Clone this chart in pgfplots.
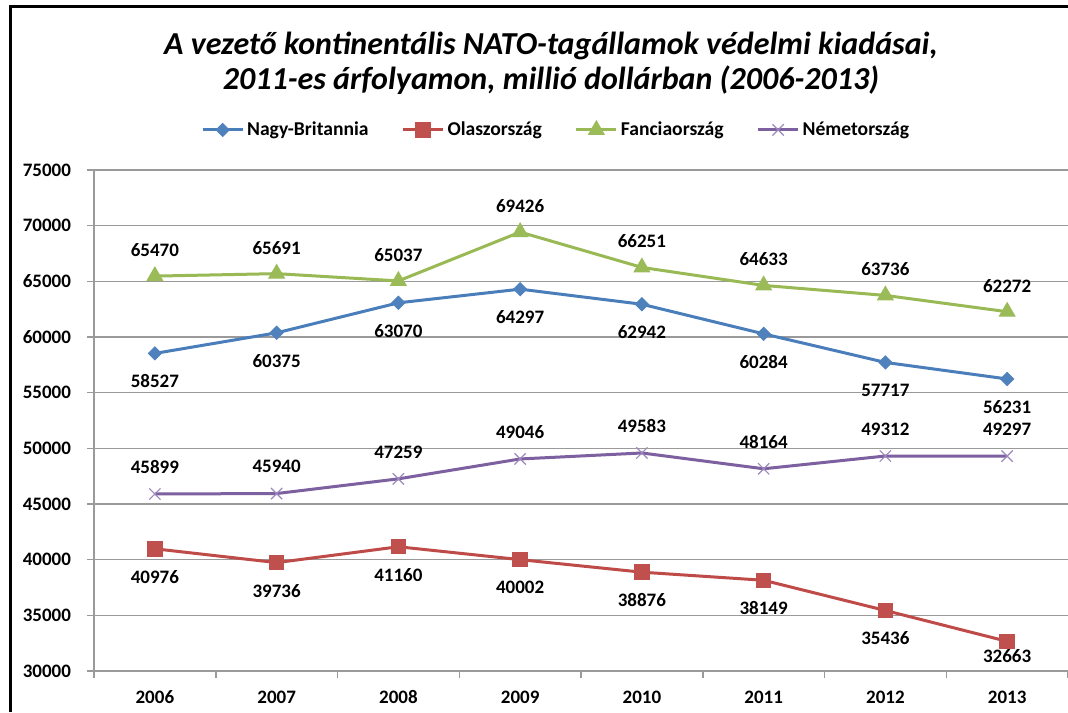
\documentclass[border=0pt]{standalone}
\usepackage{fontspec}
\setmainfont{Carlito}
\usepackage{pgfplots}
\usepackage{pgfplotstable}
\pgfplotsset{compat=1.18}
\definecolor{nbl}{HTML}{4A7EBB}
\definecolor{nbm}{HTML}{4F81BD}
\definecolor{itl}{HTML}{BE4B48}
\definecolor{itm}{HTML}{C0504D}
\definecolor{frl}{HTML}{98B954}
\definecolor{frm}{HTML}{9BBB59}
\definecolor{del}{HTML}{7D60A0}
\definecolor{dem}{HTML}{9C88BD}
\definecolor{gridc}{HTML}{9A9A9A}
\pgfplotstableread{
x y s
0 40976 -14
1 39736 -14
2 41160 -14
3 40002 -14
4 38876 -14
5 38149 -14
6 35436 -14
7 32663 -7.5
}\itdata
\begin{document}
\begin{tikzpicture}[x=1pt,y=1pt]
\useasboundingbox (0pt,0pt) rectangle (534pt,356pt);
\draw[line width=1.7pt] (5.3pt,0pt) -- (5.3pt,352.6pt) -- (534pt,352.6pt);
\node[font=\fontsize{16}{17.5}\selectfont\bfseries\itshape, align=center] at (275.5pt,324.4pt)
  {A vezető kontinentális NATO-tagállamok védelmi kiadásai,\\2011-es árfolyamon, millió dollárban (2006-2013)};
\begin{axis}[
  at={(47pt,20.5pt)}, anchor=south west,
  scale only axis, width=487pt, height=250.5pt,
  xmin=-0.5, xmax=7.5, ymin=30000, ymax=75000,
  ytick={30000,35000,...,75000},
  scaled y ticks=false,
  xtick={0,...,7},
  xticklabels={2006,2007,2008,2009,2010,2011,2012,2013},
  minor xtick={-0.5,0.5,...,7.5},
  major x tick style={draw=none},
  minor x tick style={draw=gridc, line width=0.75pt},
  y tick style={draw=gridc, line width=0.75pt},
  tick align=outside,
  major tick length=3.5pt, minor tick length=3.5pt,
  axis x line*=bottom, axis y line*=left,
  axis line style={draw=gridc, line width=0.75pt, -},
  ymajorgrids, grid style={draw=gridc, line width=0.75pt},
  /pgf/number format/1000 sep={},
  /pgf/number format/assume math mode=true,
  ticklabel style={font=\fontsize{9.5}{11}\selectfont\bfseries},
  yticklabel style={anchor=east, xshift=-4.5pt},
  xticklabel style={anchor=center, yshift=-9.5pt},
  clip=false,
  every node near coord/.append style={font=\fontsize{9.5}{11}\selectfont\bfseries, text=black, anchor=center},
  legend columns=4,
  legend style={at={(0.475,1.08)}, anchor=center, draw=none, fill=none,
    font=\fontsize{9.8}{11}\selectfont\bfseries,
    /tikz/every even column/.append style={column sep=15pt},
    nodes={inner xsep=1.5pt}},
  legend image code/.code={\draw[mark repeat=2,mark phase=2] plot coordinates {(0pt,0pt)(10pt,0pt)(20pt,0pt)};},
]
\addplot[color=nbl, line width=1.5pt, mark=square*, mark size=2.3pt,
  mark options={rotate=45, fill=nbm, draw=nbm, line width=0.5pt},
  nodes near coords, every node near coord/.append style={yshift=-14pt}]
  coordinates {(0,58527)(1,60375)(2,63070)(3,64297)(4,62942)(5,60284)(6,57717)(7,56231)};
\addlegendentry{Nagy-Britannia}
\addplot[color=itl, line width=1.5pt, mark=square*, mark size=3.6pt,
  mark options={fill=itm, draw=itm, line width=0.5pt},
  visualization depends on={\thisrow{s}\as\lblshift},
  nodes near coords, every node near coord/.append style={yshift=\lblshift pt}]
  table[x=x, y=y] {\itdata};
\addlegendentry{Olaszország}
\addplot[color=frl, line width=1.5pt, mark=triangle*, mark size=4.5pt,
  mark options={fill=frm, draw=frm, line width=0.5pt},
  nodes near coords, every node near coord/.append style={yshift=13pt}]
  coordinates {(0,65470)(1,65691)(2,65037)(3,69426)(4,66251)(5,64633)(6,63736)(7,62272)};
\addlegendentry{Fanciaország}
\addplot[color=del, line width=1.5pt, mark=x, mark size=4pt,
  mark options={draw=dem, line width=0.6pt},
  nodes near coords, every node near coord/.append style={yshift=13.5pt}]
  coordinates {(0,45899)(1,45940)(2,47259)(3,49046)(4,49583)(5,48164)(6,49312)(7,49297)};
\addlegendentry{Németország}
\end{axis}
\end{tikzpicture}
\end{document}
